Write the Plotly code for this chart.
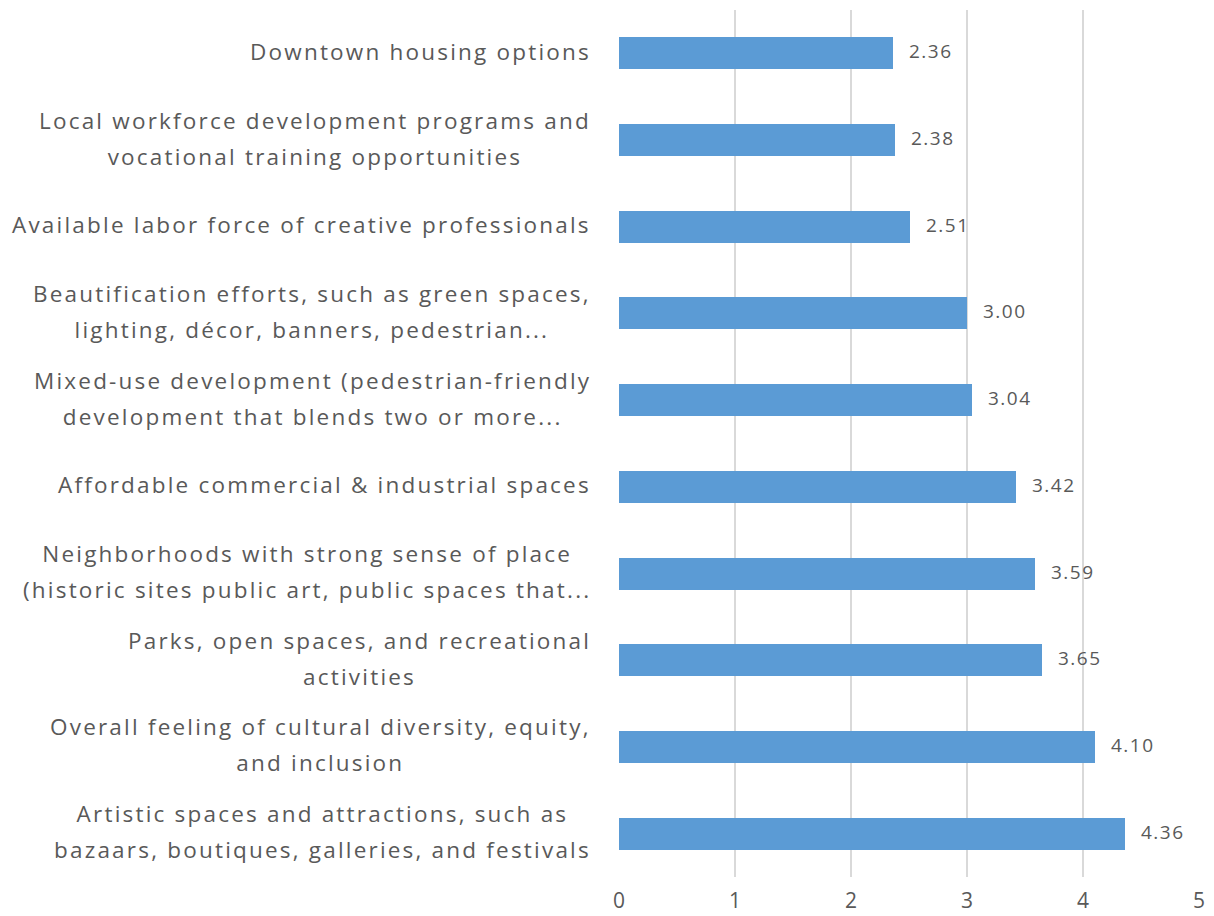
import plotly.graph_objects as go

# Category labels (top to bottom) and their mean scores
categories = [
    ["Downtown housing options"],
    ["Local workforce development programs and", "vocational training opportunities"],
    ["Available labor force of creative professionals"],
    ["Beautification efforts, such as green spaces,", "lighting, décor, banners, pedestrian..."],
    ["Mixed-use development (pedestrian-friendly", "development that blends two or more..."],
    ["Affordable commercial & industrial spaces"],
    ["Neighborhoods with strong sense of place", "(historic sites public art, public spaces that..."],
    ["Parks, open spaces, and recreational", "activities"],
    ["Overall feeling of cultural diversity, equity,", "and inclusion"],
    ["Artistic spaces and attractions, such as", "bazaars, boutiques, galleries, and festivals"],
]
scores = [2.36, 2.38, 2.51, 3.00, 3.04, 3.42, 3.59, 3.65, 4.10, 4.36]
x_ticks = [0, 1, 2, 3, 4, 5]

FONT = "Open Sans"
TEXT_COLOR = "#595959"
BAR_COLOR = "#5B9BD5"
LABEL_SIZE = 22.5
LABEL_TRACKING = 2.2


def tracked(s, size, spacing):
    return f'<span style="font-size:{size}px;letter-spacing:{spacing}px">{s}</span>'


y_pos = list(range(len(categories)))

fig = go.Figure(
    go.Bar(
        x=scores,
        y=y_pos,
        orientation="h",
        width=0.37,
        marker=dict(color=BAR_COLOR, line=dict(width=0)),
        hoverinfo="skip",
    )
)

# Category labels, centred line by line and right-aligned against the axis.
# The outer font size sets the line pitch; the spans set the glyph size.
for i, lines in enumerate(categories):
    text = "<br>".join(tracked(ln, LABEL_SIZE, LABEL_TRACKING) for ln in lines)
    fig.add_annotation(
        x=0, xref="paper", y=i, yref="y",
        text=text, showarrow=False,
        xanchor="right", yanchor="middle", align="center",
        xshift=-26, yshift=2,
        font=dict(family=FONT, size=28, color=TEXT_COLOR),
    )

# Value labels at the end of each bar
for i, v in enumerate(scores):
    fig.add_annotation(
        x=v, xref="x", y=i, yref="y",
        text=tracked(f"{v:.2f}", 19, 1.5), showarrow=False,
        xanchor="left", yanchor="middle",
        xshift=14, yshift=2,
        font=dict(family=FONT, size=19, color=TEXT_COLOR),
    )

fig.update_layout(
    width=1214, height=916,
    margin=dict(l=619, r=15, t=10, b=39),
    paper_bgcolor="white", plot_bgcolor="white",
    showlegend=False,
    bargap=0,
    font=dict(family=FONT, color=TEXT_COLOR),
    xaxis=dict(
        range=[0, 5],
        tickvals=x_ticks,
        ticktext=[str(t) for t in x_ticks],
        showgrid=True, gridcolor="#d9d9d9", gridwidth=2,
        zeroline=False,
        showline=False,
        ticks="",
        automargin=False,
        ticklabelstandoff=9,
        tickfont=dict(family=FONT, size=21, color=TEXT_COLOR),
        fixedrange=True,
    ),
    yaxis=dict(
        range=[len(categories) - 0.5, -0.5],
        showticklabels=False,
        showgrid=False, zeroline=False, showline=False, ticks="",
        automargin=False,
        fixedrange=True,
    ),
)

fig.write_html("out.html")
